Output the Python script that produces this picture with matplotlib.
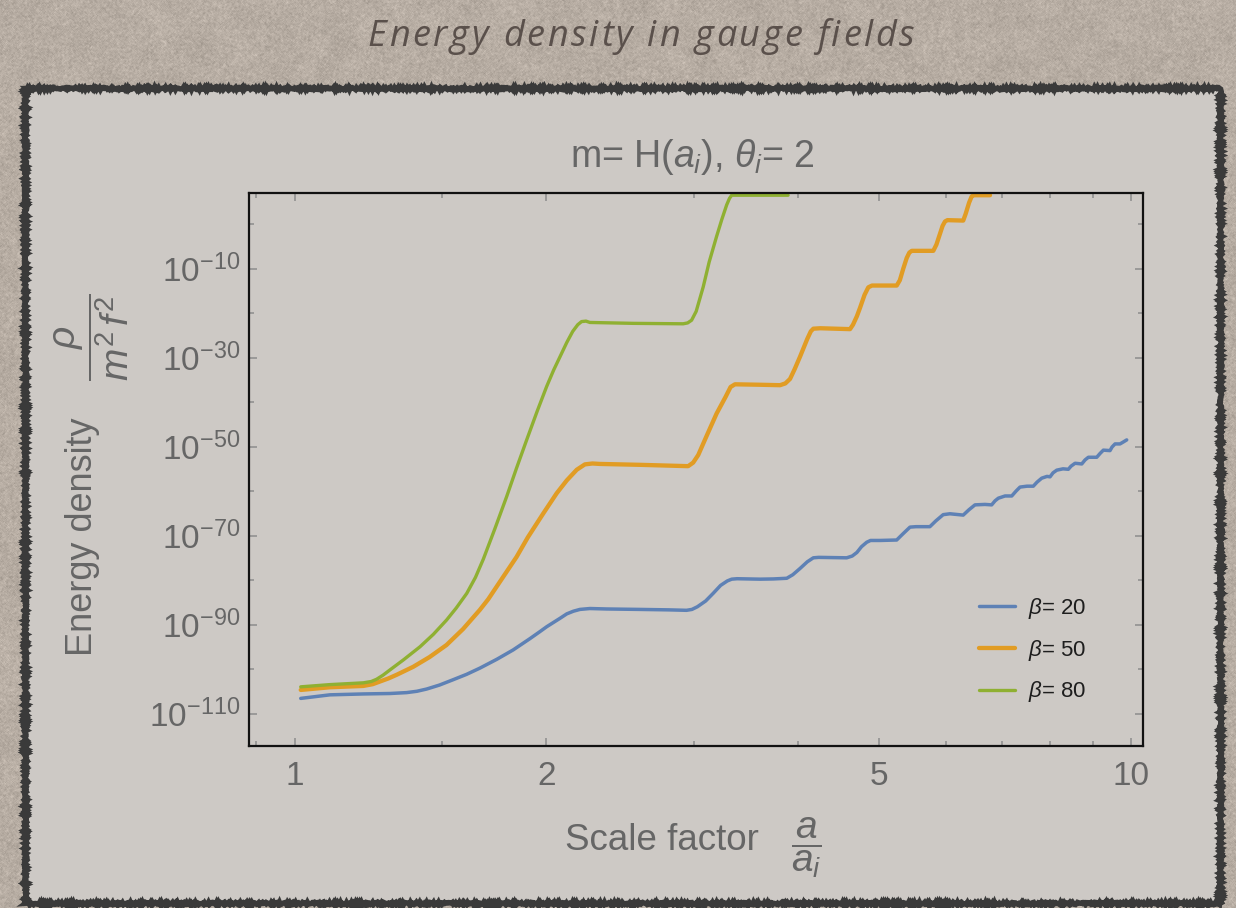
import numpy as np
import matplotlib
matplotlib.use("Agg")
import matplotlib.pyplot as plt
from matplotlib.patches import Rectangle
from matplotlib.ticker import FixedLocator, FixedFormatter, NullFormatter

plt.rcParams['font.family'] = ['Liberation Sans', 'DejaVu Sans']
plt.rcParams['mathtext.fontset'] = 'custom'
plt.rcParams['mathtext.rm'] = 'Liberation Sans'
plt.rcParams['mathtext.it'] = 'Liberation Sans:italic'
plt.rcParams['mathtext.bf'] = 'Liberation Sans:bold'

# ---- data: scale factor a/a_i and log10 of rho/(m^2 f^2) ----
beta20_a = [1.017, 1.102, 1.208, 1.300, 1.361, 1.400, 1.438, 1.490, 1.547, 1.605,
            1.665, 1.745, 1.825, 1.910, 1.964, 2.001, 2.040, 2.076, 2.115, 2.154,
            2.193, 2.254, 2.360, 2.587, 2.800, 2.941, 2.985, 3.030, 3.100, 3.164,
            3.230, 3.290, 3.330, 3.380, 3.600, 3.734, 3.875, 3.940, 4.019, 4.100,
            4.169, 4.230, 4.570, 4.640, 4.700, 4.760, 4.829, 4.880, 5.009, 5.244,
            5.336, 5.440, 5.531, 5.746, 5.841, 5.960, 6.071, 6.298, 6.398, 6.505,
            6.686, 6.811, 6.874, 6.937, 7.066, 7.198, 7.284, 7.364, 7.507, 7.638,
            7.716, 7.817, 7.932, 7.998, 8.064, 8.147, 8.289, 8.411, 8.474, 8.568,
            8.728, 8.807, 8.888, 9.095, 9.178, 9.262, 9.434, 9.486, 9.565, 9.697,
            9.778, 9.877]
beta20_log_rho = [-106.6, -105.8, -105.6, -105.5, -105.3, -105.0, -104.5, -103.6, -102.4, -101.2,
                  -99.8, -97.8, -95.7, -93.2, -91.6, -90.5, -89.5, -88.6, -87.6, -87.0,
                  -86.6, -86.4, -86.5, -86.6, -86.7, -86.8, -86.6, -86.0, -84.7, -83.0,
                  -81.2, -80.2, -79.8, -79.7, -79.8, -79.75, -79.6, -78.8, -77.4, -75.9,
                  -75.0, -74.9, -75.0, -74.6, -73.8, -72.5, -71.5, -71.1, -71.1, -71.0,
                  -69.6, -68.1, -68.0, -68.0, -66.7, -65.3, -65.1, -65.4, -64.2, -63.1,
                  -63.0, -63.1, -62.2, -61.6, -61.1, -61.1, -60.0, -59.1, -58.9, -58.9,
                  -58.0, -57.1, -56.7, -56.8, -55.9, -55.3, -55.0, -55.1, -54.4, -53.75,
                  -53.9, -53.0, -52.4, -52.4, -51.55, -50.8, -50.9, -50.1, -49.4, -49.4,
                  -49.0, -48.5]

beta50_a = [1.017, 1.102, 1.208, 1.240, 1.265, 1.295, 1.324, 1.386, 1.450, 1.519,
            1.590, 1.665, 1.704, 1.765, 1.842, 1.900, 1.983, 2.057, 2.115, 2.174,
            2.223, 2.270, 2.317, 2.587, 2.954, 2.995, 3.037, 3.108, 3.194, 3.275,
            3.320, 3.360, 3.600, 3.804, 3.860, 3.910, 3.960, 4.019, 4.100, 4.140,
            4.169, 4.250, 4.612, 4.650, 4.700, 4.741, 4.800, 4.850, 4.900, 5.245,
            5.290, 5.340, 5.391, 5.430, 5.466, 5.800, 5.850, 5.907, 5.950, 5.990,
            6.030, 6.298, 6.340, 6.400, 6.445, 6.474, 6.780]
beta50_log_rho = [-104.7, -104.1, -103.8, -103.4, -102.8, -102.1, -101.3, -99.5, -97.3, -94.6,
                  -91.0, -86.7, -84.3, -80.0, -74.8, -70.4, -65.0, -60.5, -57.6, -55.2,
                  -54.0, -53.8, -53.9, -54.1, -54.4, -53.6, -51.9, -47.6, -42.6, -38.8,
                  -36.6, -36.0, -36.1, -36.2, -35.8, -34.8, -32.6, -29.8, -25.8, -24.1,
                  -23.5, -23.4, -23.6, -22.6, -20.7, -18.8, -15.9, -14.2, -13.8, -13.8,
                  -12.6, -10.0, -7.6, -6.4, -6.0, -6.0, -4.6, -2.2, -0.4, 0.6,
                  0.9, 0.8, 2.3, 4.8, 6.2, 6.5, 6.5]

beta80_a = [1.017, 1.102, 1.208, 1.235, 1.253, 1.275, 1.300, 1.350, 1.412, 1.465,
            1.519, 1.560, 1.606, 1.645, 1.681, 1.735, 1.792, 1.843, 1.894, 1.950,
            2.001, 2.040, 2.076, 2.115, 2.150, 2.180, 2.203, 2.230, 2.254, 2.540,
            2.914, 2.950, 2.982, 3.020, 3.079, 3.130, 3.194, 3.240, 3.284, 3.310,
            3.330, 3.600, 3.889]
beta80_log_rho = [-104.0, -103.5, -103.1, -102.8, -102.3, -101.4, -100.2, -97.9, -95.0, -92.2,
                  -89.0, -86.3, -83.0, -79.4, -75.3, -68.5, -61.3, -54.7, -48.5, -42.0,
                  -36.5, -32.8, -29.8, -26.6, -24.1, -22.6, -21.9, -21.8, -22.1, -22.3,
                  -22.4, -22.2, -21.6, -19.6, -14.1, -8.5, -2.8, 1.0, 4.3, 5.8,
                  6.5, 6.5, 6.5]

series_labels = [r'$\beta$= 20', r'$\beta$= 50', r'$\beta$= 80']
series_colors = ['#5e81b5', '#e19c24', '#8fb032']
series_widths = [2.5, 3.1, 2.4]

x_major = [1, 2, 5, 10]
x_major_labels = ['1', '2', '5', '10']
x_minor = [0.9, 1.5, 3, 4, 6, 7, 8, 9]
y_major_exp = [-10, -30, -50, -70, -90, -110]
y_minor_exp = [0, -20, -40, -60, -80, -100]

W, H = 1236, 908
fig = plt.figure(figsize=(W / 100, H / 100), dpi=100)

# ---- textured slide background ----
bg = fig.add_axes([0, 0, 1, 1], zorder=0)
rng = np.random.default_rng(3)


def smooth(a, k):
    kern = np.ones(k) / k
    a = np.apply_along_axis(lambda v: np.convolve(v, kern, mode='same'), 0, a)
    a = np.apply_along_axis(lambda v: np.convolve(v, kern, mode='same'), 1, a)
    return a


fine = rng.normal(0, 1, (H, W))
fine = 0.7 * fine + 0.6 * smooth(fine, 3) * 2
coarse = smooth(rng.normal(0, 1, (H, W)), 21) * 16
base = np.array([183, 173, 163], float) / 255
tex = base[None, None, :] + (fine * 0.026 + coarse * 0.010)[:, :, None] * np.array([1.0, 0.97, 0.95])
tex = np.clip(tex, 0, 1)
bg.imshow(tex, extent=(0, W, H, 0), aspect='auto', interpolation='nearest')
bg.set_xlim(0, W)
bg.set_ylim(H, 0)
bg.axis('off')

panel = Rectangle((25, 88), 1195, 815, facecolor='#cdc9c5', edgecolor='#3a3a3a',
                  linewidth=3.8, zorder=2)
panel.set_sketch_params(scale=1.2, length=2.0, randomness=1.8)
bg.add_patch(panel)


def tracked_title(text, x_center, y_base, total_width, **kw):
    """Draw text letter by letter, spreading it to a given pixel width."""
    renderer = fig.canvas.get_renderer()
    probe = fig.text(0, 0, '|', **kw)
    bar_w = probe.get_window_extent(renderer).width
    offsets = []
    for i in range(len(text)):
        probe.set_text(text[:i] + '|')
        offsets.append(probe.get_window_extent(renderer).width - bar_w if i else 0.0)
    probe.set_text(text)
    natural = probe.get_window_extent(renderer).width
    probe.remove()
    track = max(0.0, (total_width - natural) / (len(text) - 1))
    x0 = x_center - (natural + track * (len(text) - 1)) / 2
    for i, ch in enumerate(text):
        if ch == ' ':
            continue
        fig.text((x0 + offsets[i] + i * track) / W, 1 - y_base / H, ch,
                 ha='left', va='baseline', **kw)


tracked_title('Energy density in gauge fields', 641, 46, 547,
              family='Open Sans', fontstyle='italic', fontsize=26, color='#5a504b')

# ---- main log-log plot ----
ax = fig.add_axes([249 / W, 1 - 746 / H, (1143 - 249) / W, (746 - 193) / H], zorder=3)
ax.patch.set_alpha(0)

series = [(beta20_a, beta20_log_rho), (beta50_a, beta50_log_rho), (beta80_a, beta80_log_rho)]
for (xa, ly), lab, col, lw in zip(series, series_labels, series_colors, series_widths):
    ax.plot(xa, 10.0 ** np.array(ly), color=col, lw=lw, label=lab,
            solid_joinstyle='round', solid_capstyle='round')

ax.set_xscale('log')
ax.set_yscale('log')
ax.set_xlim(0.882, 10.33)
ax.set_ylim(10.0 ** -117.3, 10.0 ** 7.0)

ax.xaxis.set_major_locator(FixedLocator(x_major))
ax.xaxis.set_major_formatter(FixedFormatter(x_major_labels))
ax.xaxis.set_minor_locator(FixedLocator(x_minor))
ax.xaxis.set_minor_formatter(NullFormatter())
ax.yaxis.set_major_locator(FixedLocator([10.0 ** e for e in y_major_exp]))
ax.yaxis.set_major_formatter(FixedFormatter([r'$10^{%d}$' % e for e in y_major_exp]))
ax.yaxis.set_minor_locator(FixedLocator([10.0 ** e for e in y_minor_exp]))
ax.yaxis.set_minor_formatter(NullFormatter())

ax.tick_params(which='both', direction='in', top=True, right=True, color='#8c8c8c',
               width=1.1, labelcolor='#666666', labelsize=24)
ax.tick_params(which='major', length=6)
ax.tick_params(which='minor', length=3.5)
ax.tick_params(axis='x', pad=11)
ax.tick_params(axis='y', pad=6)
for sp in ax.spines.values():
    sp.set_color('#111111')
    sp.set_linewidth(1.6)

label_color = '#666666'
fig.text(692 / W, 1 - 157 / H, r'm= H($a_i$), $\theta_i$= 2', ha='center', va='center',
         fontsize=27, color=label_color)

# x axis label: words plus the a/a_i fraction
fig.text(759 / W, 1 - 850 / H, 'Scale factor', ha='right', va='baseline',
         fontsize=26.5, color=label_color)
fig.text(806 / W, 1 - 848 / H, r'$\dfrac{a}{a_i}$', ha='center', va='center',
         fontsize=28, color=label_color)

# y axis label: words plus the rho/(m^2 f^2) fraction
fig.text(83 / W, 1 - 537 / H, 'Energy density', ha='center', va='center', rotation=90,
         fontsize=26, color=label_color)
fig.text(92 / W, 1 - 337 / H, r'$\dfrac{\rho}{m^2\,f^2}$', ha='center', va='center',
         rotation=90, fontsize=28, color=label_color)

leg = ax.legend(loc='upper left', bbox_to_anchor=(979 / W, 1 - 596 / H),
                bbox_transform=fig.transFigure, frameon=False, fontsize=16,
                handlelength=1.62, handletextpad=0.6, labelspacing=0.75,
                borderpad=0, borderaxespad=0)
for t in leg.get_texts():
    t.set_color('#1e1e1e')

fig.savefig('out.png', dpi=100)
